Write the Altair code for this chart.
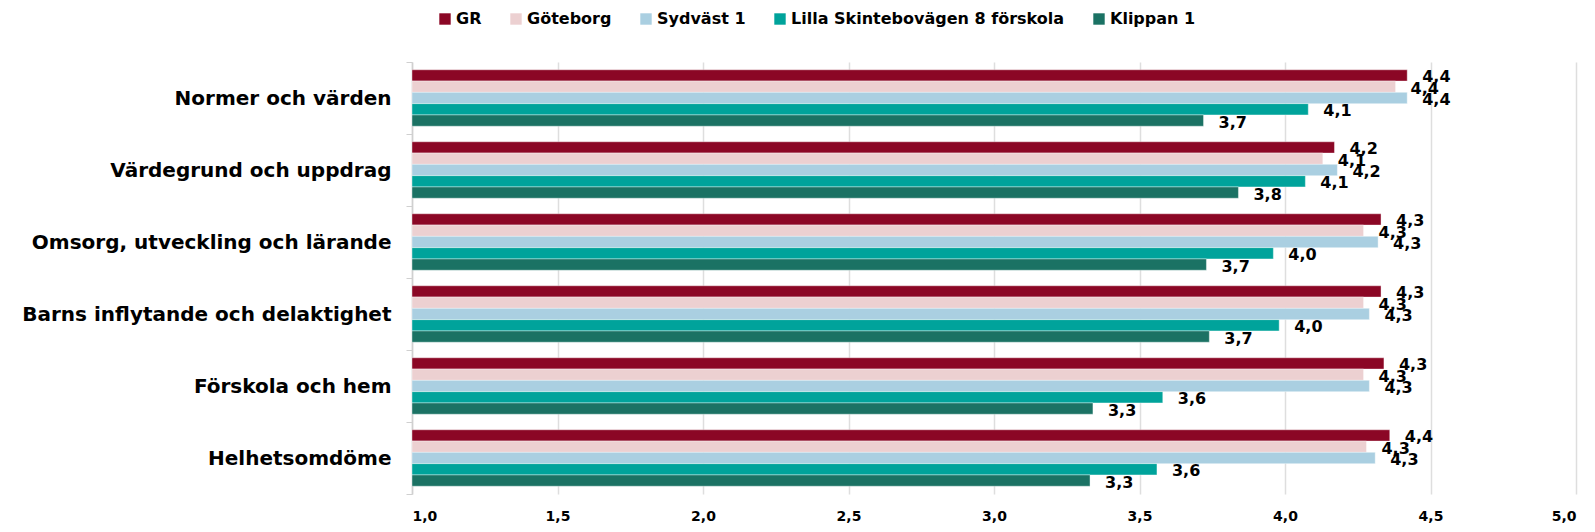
import altair as alt
import pandas as pd

categories = ["Normer och värden", "Värdegrund och uppdrag", "Omsorg, utveckling och lärande",
              "Barns inflytande och delaktighet ", "Förskola och hem ", "Helhetsomdöme"]
series = ["GR", "Göteborg", "Sydväst 1", "Lilla Skintebovägen 8 förskola", "Klippan 1"]
colors = ["#8b0725", "#ecd0d1", "#aacfe1", "#00a39b", "#1b7264"]

gr = [4.42, 4.17, 4.33, 4.33, 4.34, 4.36]
goteborg = [4.38, 4.13, 4.27, 4.27, 4.27, 4.28]
sydvast = [4.42, 4.18, 4.32, 4.29, 4.29, 4.31]
lilla = [4.08, 4.07, 3.96, 3.98, 3.58, 3.56]
klippan = [3.72, 3.84, 3.73, 3.74, 3.34, 3.33]

x_ticks = [1.0, 1.5, 2.0, 2.5, 3.0, 3.5, 4.0, 4.5, 5.0]

rows = []
for s, vals in zip(series, [gr, goteborg, sydvast, lilla, klippan]):
    for c, v in zip(categories, vals):
        rows.append({"category": c, "series": s, "value": v})
df = pd.DataFrame(rows)

FONT = "DejaVu Sans"

base = alt.Chart(df).encode(
    y=alt.Y("category:N", sort=categories, title=None,
            scale=alt.Scale(paddingInner=0, paddingOuter=0),
            axis=alt.Axis(labelFont=FONT, labelFontSize=20, labelFontWeight="bold",
                          labelColor="#000000", labelPadding=15, tickSize=6,
                          tickBand="extent", tickColor="#d0d0d0", domainColor="#d0d0d0",
                          domainWidth=1.5, grid=False, labelLimit=600)),
    yOffset=alt.YOffset("series:N", sort=series,
                        scale=alt.Scale(paddingInner=0, paddingOuter=0.69)),
)

bars = base.mark_bar(stroke="white", strokeWidth=0.4).encode(
    x=alt.X("value:Q", title=None,
            scale=alt.Scale(domain=[1, 5], zero=False, nice=False),
            axis=alt.Axis(values=x_ticks, labelExpr="replace(format(datum.value, '.1f'), '.', ',')",
                          labelFont=FONT, labelFontSize=14, labelFontWeight="bold",
                          labelColor="#000000", labelPadding=15, ticks=False, domain=False,
                          grid=True, gridColor="#dedede", gridWidth=1.5)),
    x2=alt.datum(1),
    color=alt.Color("series:N", sort=series,
                    scale=alt.Scale(domain=series, range=colors),
                    legend=alt.Legend(title=None, orient="none", direction="horizontal",
                                      legendX=25, legendY=-51,
                                      symbolType="square", symbolSize=130, symbolStrokeWidth=0,
                                      symbolOpacity=1,
                                      labelFont=FONT, labelFontSize=16, labelFontWeight="bold",
                                      labelColor="#000000", labelOffset=3, columnPadding=26,
                                      labelLimit=400)),
)

labels = base.transform_calculate(
    label="replace(format(datum.value, '.1f'), '.', ',')"
).mark_text(align="left", baseline="middle", dx=15, dy=2, font=FONT, fontSize=16,
            fontWeight="bold", color="#000000").encode(
    x=alt.X("value:Q"),
    text="label:N",
)

chart = alt.layer(bars, labels).properties(
    width=1164, height=432,
    padding={"left": 404, "top": 54, "right": 11, "bottom": 30},
    autosize="none",
).configure_view(stroke=None)

chart.save("out.html", embed_options={"renderer": "svg", "actions": False})
